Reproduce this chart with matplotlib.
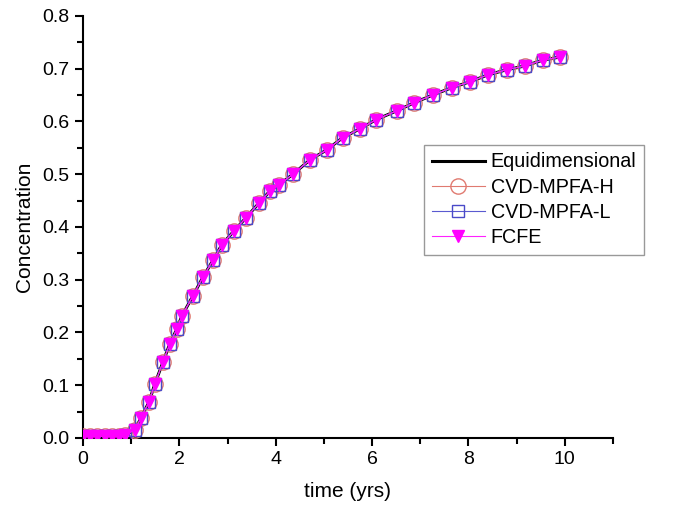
import matplotlib
matplotlib.use("Agg")
import matplotlib.pyplot as plt
from matplotlib.ticker import MultipleLocator

plt.rcParams["font.family"] = ["Liberation Sans", "DejaVu Sans"]

# breakthrough curve
time_yrs = [0.0, 0.15, 0.3, 0.45, 0.6, 0.75, 0.87, 1.08, 1.20, 1.37, 1.49, 1.66,
            1.80, 1.95, 2.05, 2.28, 2.49, 2.70, 2.88, 3.13, 3.38, 3.65, 3.88,
            4.07, 4.36, 4.71, 5.06, 5.39, 5.75, 6.08, 6.51, 6.87, 7.26, 7.66,
            8.03, 8.40, 8.80, 9.17, 9.54, 9.90]
concentration = [0.003, 0.003, 0.003, 0.003, 0.003, 0.004, 0.006, 0.015, 0.038,
                 0.068, 0.102, 0.144, 0.178, 0.207, 0.231, 0.269, 0.305, 0.337,
                 0.366, 0.392, 0.417, 0.445, 0.468, 0.480, 0.500, 0.527, 0.546,
                 0.569, 0.586, 0.603, 0.620, 0.635, 0.650, 0.664, 0.675, 0.688,
                 0.698, 0.705, 0.716, 0.722]

series_labels = ["Equidimensional", "CVD-MPFA-H", "CVD-MPFA-L", "FCFE"]


def main():
    fig = plt.figure(figsize=(6.75, 5.11), dpi=100)
    ax = fig.add_axes([0.123, 0.143, 0.785, 0.826])

    ax.plot(time_yrs, concentration, color="black", lw=2.2, label=series_labels[0], zorder=2)
    ax.plot(time_yrs, concentration, color="#e07a70", lw=0.8, marker="o", ms=11,
            mfc="none", mec="#e07a70", mew=1.0, label=series_labels[1], zorder=3)
    ax.plot(time_yrs, concentration, color="#5a5ad0", lw=0.8, marker="s", ms=8,
            mfc="none", mec="#4a4ac8", mew=1.0, label=series_labels[2], zorder=4)
    ax.plot(time_yrs, concentration, color="#ff22ff", lw=0.8, marker="v", ms=8,
            mfc="#ff00ff", mec="#ff00ff", label=series_labels[3], zorder=5)

    ax.set_xlim(0, 11)
    ax.set_ylim(0, 0.8)
    ax.xaxis.set_major_locator(MultipleLocator(2))
    ax.xaxis.set_minor_locator(MultipleLocator(1))
    ax.yaxis.set_major_locator(MultipleLocator(0.1))
    ax.yaxis.set_minor_locator(MultipleLocator(0.05))
    ax.yaxis.set_major_formatter(plt.FormatStrFormatter("%.1f"))
    ax.tick_params(which="major", direction="out", length=6, width=1.5, labelsize=14)
    ax.tick_params(which="minor", direction="out", length=4, width=1.5)
    for side in ("top", "right"):
        ax.spines[side].set_visible(False)
    for side in ("left", "bottom"):
        ax.spines[side].set_linewidth(1.5)

    ax.set_xlabel("time (yrs)", fontsize=15, labelpad=10)
    ax.set_ylabel("Concentration", fontsize=15, labelpad=6)

    leg = ax.legend(loc="upper left", bbox_to_anchor=(0.643, 0.695), borderaxespad=0,
                    fontsize=14.2, frameon=True, fancybox=False, handlelength=2.7,
                    borderpad=0.4, labelspacing=0.32, handletextpad=0.3)
    leg.get_frame().set_edgecolor("#808080")
    leg.get_frame().set_linewidth(1.0)

    fig.savefig("out.png", dpi=100)
    plt.close(fig)


if __name__ == "__main__":
    main()
